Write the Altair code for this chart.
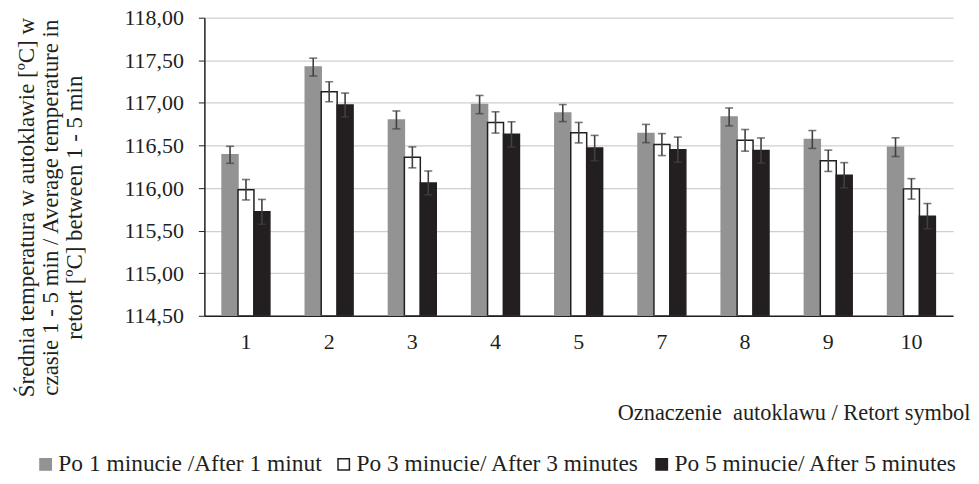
import altair as alt
import pandas as pd

categories = ["1", "2", "3", "4", "5", "7", "8", "9", "10"]
series = ["Po 1 minucie /After 1 minut", "Po 3 minucie/ After 3 minutes", "Po 5 minucie/ After 5 minutes"]
after1 = [116.39, 117.42, 116.80, 116.98, 116.88, 116.64, 116.835, 116.57, 116.48]
after3 = [115.98, 117.13, 116.36, 116.77, 116.65, 116.51, 116.56, 116.32, 115.99]
after5 = [115.72, 116.975, 116.06, 116.63, 116.47, 116.45, 116.44, 116.15, 115.67]
err1 = [0.10, 0.105, 0.105, 0.107, 0.10, 0.107, 0.105, 0.105, 0.11]
err3 = [0.12, 0.117, 0.123, 0.125, 0.12, 0.129, 0.127, 0.125, 0.12]
err5 = [0.146, 0.14, 0.14, 0.148, 0.148, 0.148, 0.148, 0.148, 0.148]

rows = []
for s, vals, errs in zip(series, [after1, after3, after5], [err1, err3, err5]):
    for c, v, e in zip(categories, vals, errs):
        rows.append({"cat": c, "series": s, "value": v, "lo": v - e, "hi": v + e})
df = pd.DataFrame(rows)

FONT = "Liberation Serif"
ytitle = ["Średnia temperatura w autoklawie [ºC] w",
          "czasie 1 - 5 min / Average temperature in",
          "retort [ºC] between 1 - 5 min"]

x_enc = alt.X("cat:N", sort=categories,
              scale=alt.Scale(paddingInner=0.425, paddingOuter=0.2125),
              axis=alt.Axis(title="Oznaczenie\u00a0 autoklawu / Retort symbol", labelAngle=0,
                            ticks=False, labelPadding=16, labelFontSize=22,
                            domainColor="#231f20", domainWidth=1.5,
                            titleX=768, titleY=104, titleAlign="right",
                            titleBaseline="alphabetic", titleFontSize=22.4,
                            titleFontWeight="normal"))
xoff = alt.XOffset("series:N", sort=series, scale=alt.Scale(paddingInner=0, paddingOuter=0))
yscale = alt.Scale(domain=[114.5, 118.0], nice=False, zero=False)

bars = alt.Chart(df).mark_bar(strokeWidth=1.5, clip=True).encode(
    x=x_enc,
    xOffset=xoff,
    y=alt.Y("value:Q", scale=yscale,
            axis=alt.Axis(title=ytitle, values=[114.5, 115, 115.5, 116, 116.5, 117, 117.5, 118],
                          labelExpr="replace(format(datum.value, '.2f'), '.', ',')",
                          tickSize=6, labelPadding=15, labelFontSize=22,
                          domainColor="#231f20", tickColor="#231f20", domainWidth=1.5,
                          gridColor="#cfcfcf", gridWidth=1.2,
                          titleFontSize=23, titleFontWeight="normal", titleLineHeight=24,
                          titleX=-189, titleY=190, titleBaseline="top", titleAngle=-90)),
    y2=alt.datum(114.5),
    fill=alt.Fill("series:N", sort=series,
                  scale=alt.Scale(domain=series, range=["#939393", "#ffffff", "#231f20"]),
                  legend=alt.Legend(title=None, orient="none", direction="horizontal",
                                    legendX=-171, legendY=436, symbolType="square",
                                    symbolSize=130, symbolStrokeWidth=1.5,
                                    labelFontSize=23.5, labelOffset=1, columnPadding=10,
                                    labelLimit=0, padding=0)),
    stroke=alt.Stroke("series:N", sort=series,
                      scale=alt.Scale(domain=series, range=["#939393", "#231f20", "#231f20"]),
                      legend=None),
)

err_rule = alt.Chart(df).mark_rule(color="#404040", strokeWidth=1.6).encode(
    x=alt.X("cat:N", sort=categories), xOffset=xoff,
    y=alt.Y("lo:Q", scale=yscale), y2="hi:Q")
cap_lo = alt.Chart(df).mark_tick(color="#404040", thickness=1.6, size=8, orient="horizontal").encode(
    x=alt.X("cat:N", sort=categories), xOffset=xoff, y=alt.Y("lo:Q", scale=yscale))
cap_hi = alt.Chart(df).mark_tick(color="#404040", thickness=1.6, size=8, orient="horizontal").encode(
    x=alt.X("cat:N", sort=categories), xOffset=xoff, y=alt.Y("hi:Q", scale=yscale))

chart = alt.layer(bars, err_rule, cap_lo, cap_hi).properties(
    width=751, height=299,
    autosize=alt.AutoSizeParams(type="none"),
    padding={"left": 197, "top": 9, "right": 18, "bottom": 160},
).configure(font=FONT).configure_axis(
    labelFont=FONT, titleFont=FONT, labelColor="#231f20", titleColor="#231f20"
).configure_axisX(grid=False).configure_legend(
    labelFont=FONT, labelColor="#231f20"
).configure_view(stroke=None)

chart.save("out.html", embed_options={"renderer": "svg", "actions": False})
